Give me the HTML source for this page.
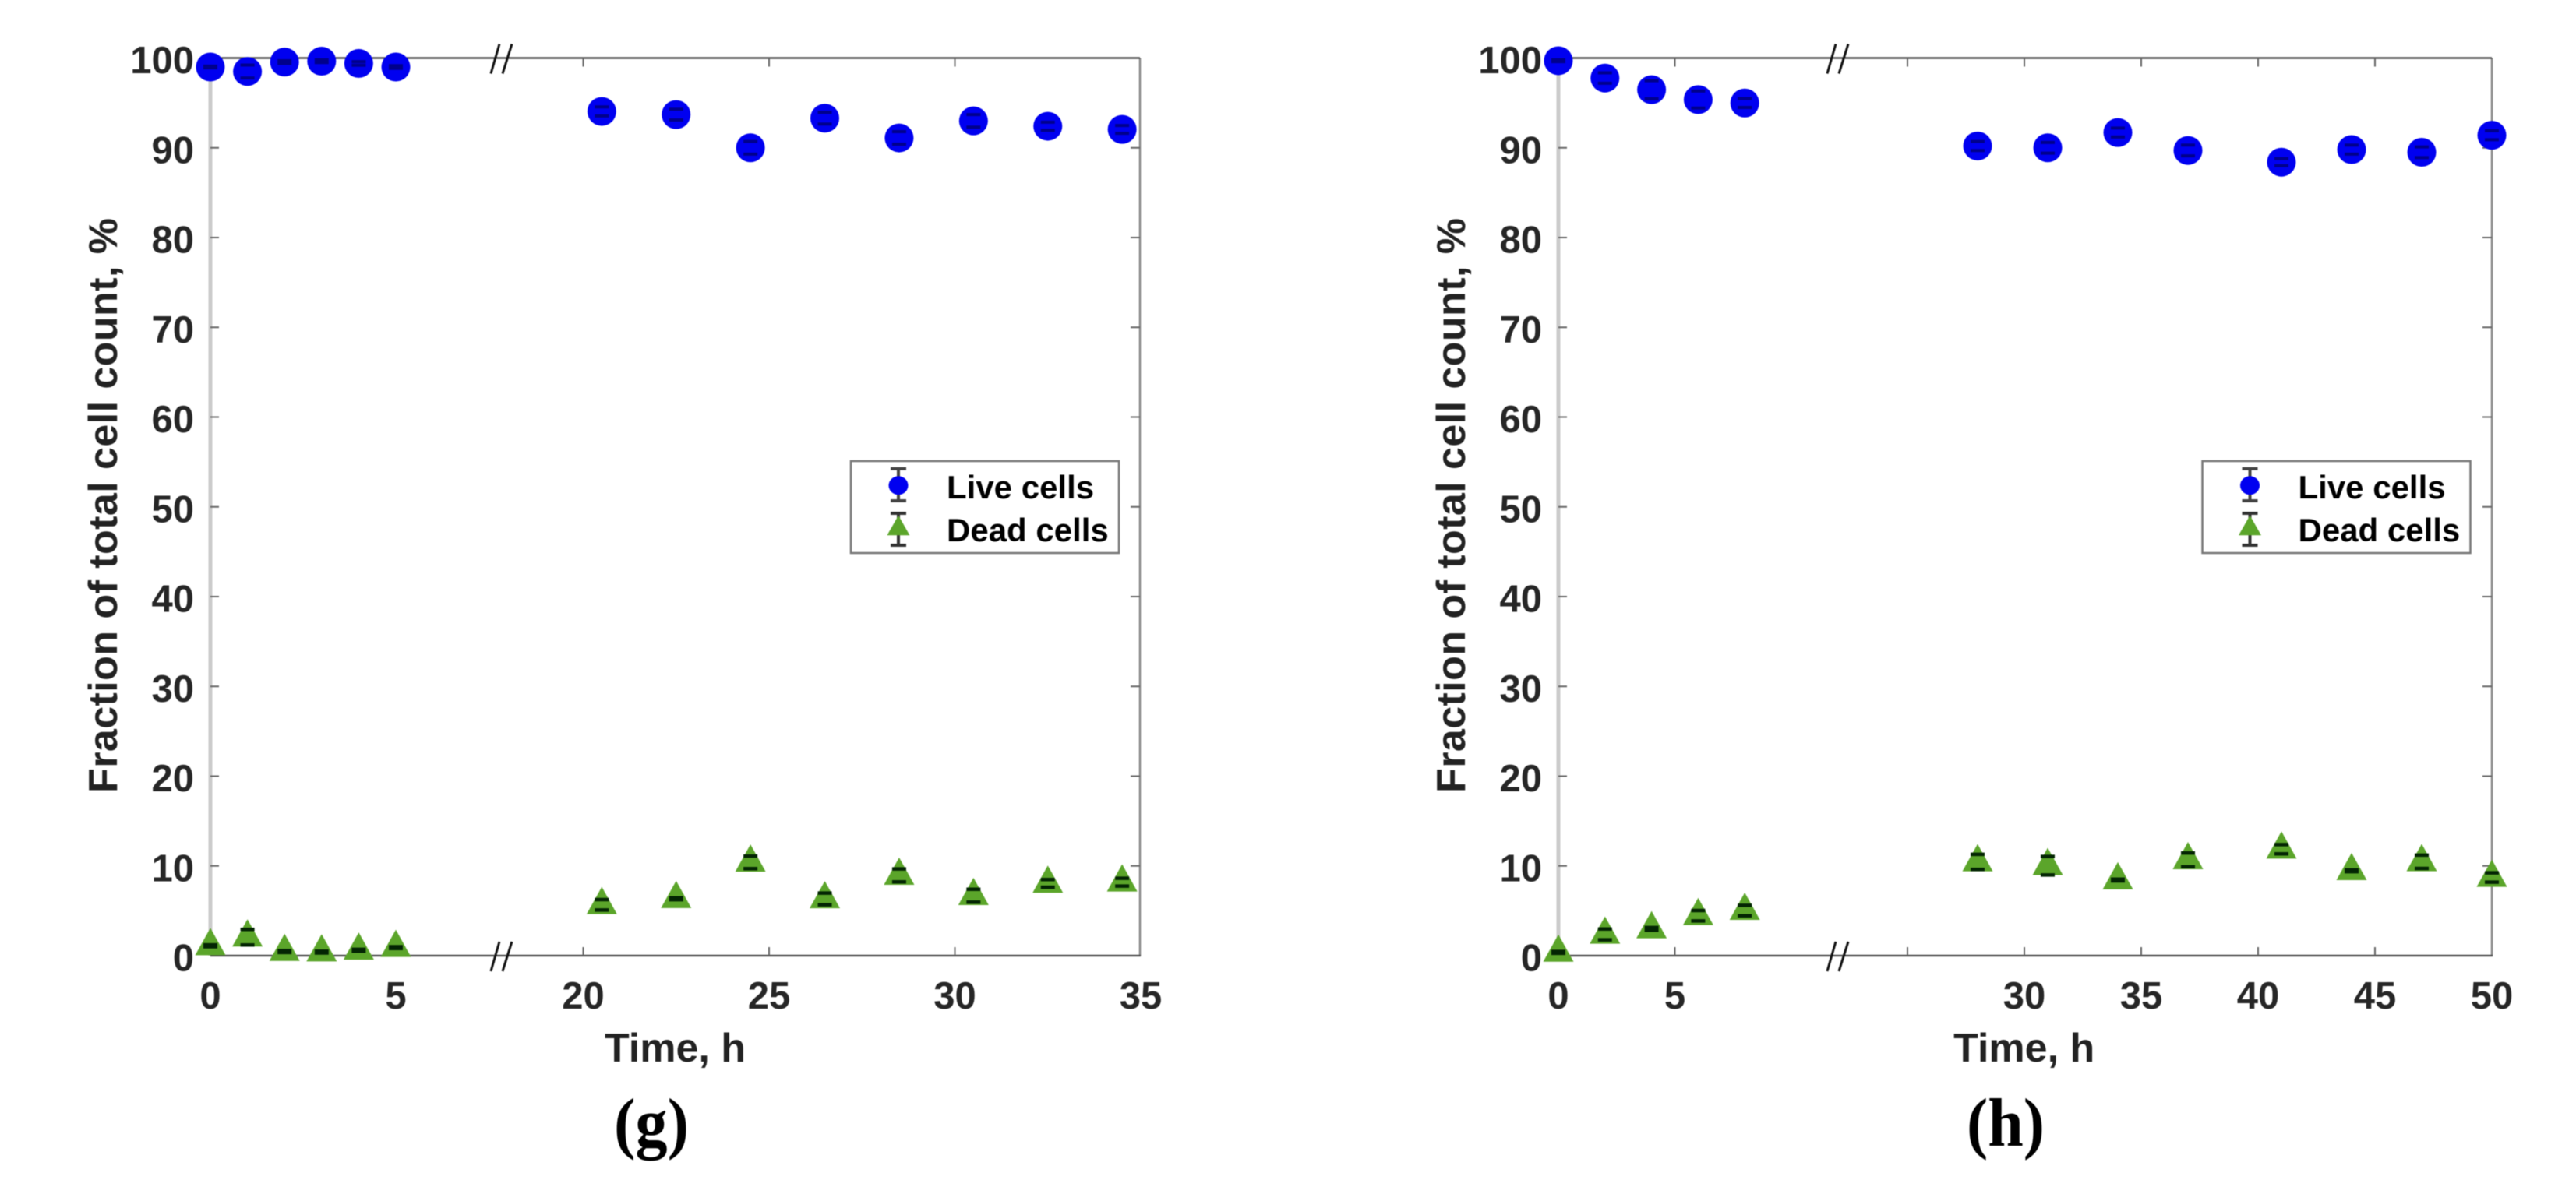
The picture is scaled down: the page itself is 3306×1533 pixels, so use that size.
<!DOCTYPE html>
<html lang="en">
<head>
<meta charset="utf-8">
<title>Live and dead cell fractions over time</title>
<style>
html,body{margin:0;padding:0;background:#fff;width:3306px;height:1533px;overflow:hidden}
svg{display:block;filter:blur(0.6px)}
text{font-family:"Liberation Sans",sans-serif;font-weight:bold}
.tick-label{font-size:49px;fill:#262626}
.axis-title{font-size:52px;fill:#222}
.legend-text{font-size:42px;fill:#000}
.caption{font-family:"Liberation Serif",serif;font-size:88px;fill:#000}
</style>
</head>
<body>
<svg id="figure" xmlns="http://www.w3.org/2000/svg" width="3306" height="1533" viewBox="0 0 3306 1533">
  <rect width="3306" height="1533" fill="#fff"/>
  <g id="panel-g"></g>
  <g id="panel-h"></g>

  <text class="axis-title" transform="translate(150,649) rotate(-90)" text-anchor="middle" textLength="738" lengthAdjust="spacing">Fraction of total cell count, %</text>
  <text class="axis-title" transform="translate(1880,649) rotate(-90)" text-anchor="middle" textLength="738" lengthAdjust="spacing">Fraction of total cell count, %</text>
  <text class="axis-title" x="866.5" y="1363" text-anchor="middle">Time, h</text>
  <text class="axis-title" x="2597.7" y="1363" text-anchor="middle">Time, h</text>

  <g>
    <rect x="1092" y="592" width="344" height="118" fill="#fff" stroke="#777" stroke-width="2.5"/>
    <g>
      <path d="M1143 601.7H1163M1143 643H1163M1153 601.7V643" stroke="#444" stroke-width="4" fill="none"/>
      <ellipse cx="1153" cy="623.3" rx="12.5" ry="12" fill="#0000f0"/>
      <text class="legend-text" x="1215" y="640">Live cells</text>
    </g>
    <g>
      <path d="M1143 659H1163M1143 700H1163M1153 659V700" stroke="#333" stroke-width="4" fill="none"/>
      <polygon points="1153,661.7 1167.5,687.3 1138.5,687.3" fill="#5ba52a"/>
      <text class="legend-text" x="1215" y="695">Dead cells</text>
    </g>
  </g>

  <g transform="translate(1734.5,0)">
    <rect x="1092" y="592" width="344" height="118" fill="#fff" stroke="#777" stroke-width="2.5"/>
    <g>
      <path d="M1143 601.7H1163M1143 643H1163M1153 601.7V643" stroke="#444" stroke-width="4" fill="none"/>
      <ellipse cx="1153" cy="623.3" rx="12.5" ry="12" fill="#0000f0"/>
      <text class="legend-text" x="1215" y="640">Live cells</text>
    </g>
    <g>
      <path d="M1143 659H1163M1143 700H1163M1153 659V700" stroke="#333" stroke-width="4" fill="none"/>
      <polygon points="1153,661.7 1167.5,687.3 1138.5,687.3" fill="#5ba52a"/>
      <text class="legend-text" x="1215" y="695">Dead cells</text>
    </g>
  </g>

  <text class="caption" x="836" y="1471" text-anchor="middle" textLength="96" lengthAdjust="spacingAndGlyphs">(g)</text>
  <text class="caption" x="2574" y="1471" text-anchor="middle" textLength="100" lengthAdjust="spacingAndGlyphs">(h)</text>
</svg>

<script>
// Shared y axis
const yTicks = [0, 10, 20, 30, 40, 50, 60, 70, 80, 90, 100];
const yTickLabels = ["0", "10", "20", "30", "40", "50", "60", "70", "80", "90", "100"];

// Panel (g)
const gXTicks = [0, 5, 20, 25, 30, 35];
const gXTickLabels = ["0", "5", "20", "25", "30", "35"];
const gTimes = [0, 1, 2, 3, 4, 5, 20.5, 22.5, 24.5, 26.5, 28.5, 30.5, 32.5, 34.5];
const gLive = [99.0, 98.5, 99.55, 99.65, 99.4, 99.0, 94.05, 93.7, 90.0, 93.3, 91.1, 93.0, 92.4, 92.05];
const gLiveErr = [0.1, 0.72, 0.15, 0.15, 0.2, 0.15, 0.5, 0.6, 0.7, 0.65, 0.7, 0.7, 0.45, 0.43];
const gDead = [1.1, 2.06, 0.46, 0.4, 0.6, 0.9, 5.67, 6.34, 10.4, 6.32, 8.94, 6.68, 8.05, 8.19];
const gDeadErr = [0.1, 0.87, 0.1, 0.1, 0.1, 0.1, 0.58, 0.1, 0.7, 0.65, 0.72, 0.72, 0.43, 0.43];

// Panel (h)
const hXTicks = [0, 5, 25, 30, 35, 40, 45, 50];
const hXTickLabels = ["0", "5", "", "30", "35", "40", "45", "50"];
const hTimes = [0, 2, 4, 6, 8, 28, 31, 34, 37, 41, 44, 47, 50];
const hLive = [99.7, 97.77, 96.47, 95.37, 94.99, 90.2, 90.0, 91.7, 89.7, 88.4, 89.8, 89.5, 91.4];
const hLiveErr = [0.1, 0.58, 1.0, 0.95, 0.5, 0.5, 0.6, 0.5, 0.6, 0.4, 0.5, 0.6, 0.5];
const hDead = [0.37, 2.37, 2.98, 4.45, 5.03, 10.45, 10.02, 8.43, 10.67, 11.86, 9.46, 10.46, 8.71];
const hDeadErr = [0.1, 0.6, 0.15, 0.58, 0.58, 0.84, 1.03, 0.1, 0.77, 0.51, 0.1, 0.74, 0.52];

const SVG_NS = "http://www.w3.org/2000/svg";

function yScale(v) {
  return 1227 - 11.525 * v;
}
function gXScale(t) {
  return t < 10 ? 270 + 47.6 * t : 748.5 + 47.7 * (t - 20);
}
function hXScale(t) {
  return t < 15 ? 2000 + 29.9 * t : 1698 + 30 * t;
}

function make(tag, attrs, parent) {
  const el = document.createElementNS(SVG_NS, tag);
  for (const k in attrs) el.setAttribute(k, attrs[k]);
  parent.appendChild(el);
  return el;
}

function drawPanel(root, xScale, xStart, xEnd, breakX, xTicks, xLabels, times, live, liveErr, dead, deadErr) {
  const top = yScale(100), bottom = yScale(0);
  let el;

  el = make("line", {x1: xStart, x2: xStart, y1: top, y2: bottom, stroke: "#cbcbcb", "stroke-width": 5}, root);
  
  
  el = make("line", {x1: xEnd, x2: xEnd, y1: top, y2: bottom, stroke: "#888", "stroke-width": 2.5}, root);
  
  
  el = make("line", {x1: xStart, x2: xEnd, y1: top, y2: top, stroke: "#4d4d4d", "stroke-width": 2.5}, root);
  
  
  el = make("line", {x1: xStart, x2: xEnd + 1, y1: bottom, y2: bottom, stroke: "#555", "stroke-width": 2.5}, root);
  
  

  yTicks.forEach(function (v, i) {
    const y = yScale(v);
    let t;
    if (v > 0 && v < 100) {
      t = make("line", {x1: xStart, x2: xStart + 11, y1: y, y2: y, stroke: "#666", "stroke-width": 2}, root);
      
      
      t = make("line", {x1: xEnd, x2: xEnd - 12, y1: y, y2: y, stroke: "#666", "stroke-width": 2}, root);
      
      
    }
    t = make("text", {x: xStart - 21, y: y + 19.5, "text-anchor": "end", "class": "tick-label"}, root);
    t.textContent = yTickLabels[i];
    
    
  });

  xTicks.forEach(function (v, i) {
    const x = xScale(v);
    let t;
    if (v > 0 && x < xEnd - 2) {
      t = make("line", {x1: x, x2: x, y1: bottom, y2: bottom - 11, stroke: "#666", "stroke-width": 2}, root);
      
      
      t = make("line", {x1: x, x2: x, y1: top, y2: top + 11, stroke: "#666", "stroke-width": 2}, root);
      
      
    }
    t = make("text", {x: x, y: 1295, "text-anchor": "middle", "class": "tick-label"}, root);
    t.textContent = xLabels[i];
    
    
  });

  [top, bottom].forEach(function (yb) {
    const mark = make("path", {
      d: "M" + (breakX - 13) + " " + (yb + 20) + "L" + (breakX - 2) + " " + (yb - 18) +
         "M" + (breakX + 2) + " " + (yb + 20) + "L" + (breakX + 14) + " " + (yb - 18),
      stroke: "#111", "stroke-width": 3, fill: "none"
    }, root);
    
    
  });

  times.forEach(function (t, i) {
    const x = xScale(t);
    const cy = yScale(live[i]);
    const c = make("circle", {cx: x, cy: cy, r: 18.5, fill: "#0000f0"}, root);
    
    
    const e = make("path", {
      d: "M" + (x - 9) + " " + yScale(live[i] + liveErr[i]) + "H" + (x + 9) +
         "M" + (x - 9) + " " + yScale(live[i] - liveErr[i]) + "H" + (x + 9),
      stroke: "#00008c", "stroke-width": 4, fill: "none"
    }, root);
    
    
  });

  times.forEach(function (t, i) {
    const x = xScale(t);
    const cy = yScale(dead[i]);
    const m = make("polygon", {
      points: x + "," + (cy - 23) + " " + (x + 19.5) + "," + (cy + 12) + " " + (x - 19.5) + "," + (cy + 12),
      fill: "#5ba52a"
    }, root);
    
    
    const e = make("path", {
      d: "M" + (x - 9) + " " + yScale(dead[i] + deadErr[i]) + "H" + (x + 9) +
         "M" + (x - 9) + " " + yScale(dead[i] - deadErr[i]) + "H" + (x + 9),
      stroke: "#032503", "stroke-width": 4.5, fill: "none"
    }, root);
    
    
  });
}

drawPanel(document.getElementById("panel-g"), gXScale, 270, 1463, 643, gXTicks, gXTickLabels, gTimes, gLive, gLiveErr, gDead, gDeadErr);
drawPanel(document.getElementById("panel-h"), hXScale, 2000, 3198, 2358, hXTicks, hXTickLabels, hTimes, hLive, hLiveErr, hDead, hDeadErr);
</script>
</body>
</html>
